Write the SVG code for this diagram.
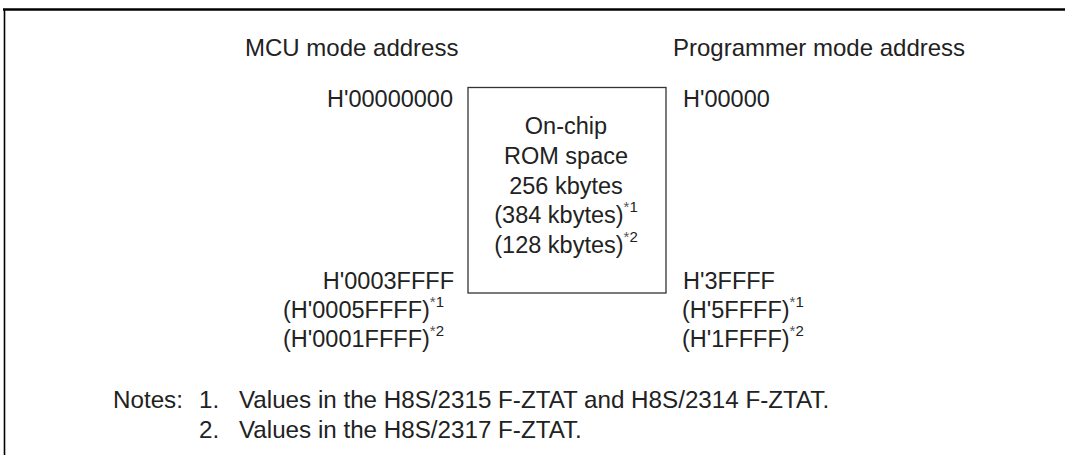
<svg xmlns="http://www.w3.org/2000/svg" width="1065" height="455" viewBox="0 0 1065 455">
<style>
text{font-family:"Liberation Sans",Arial,sans-serif;font-size:23.5px;fill:#222}
.h{font-size:24px}
.n{font-size:24.2px}
.r{text-anchor:end}
.m{text-anchor:middle}
.sup{font-size:15px}
.ast{fill:#555}
.frame{stroke:#000;fill:none}
.box{stroke:#333;stroke-width:1.3;fill:#fff}
</style>
<g id="frame">
<line class="frame" x1="3" y1="9.5" x2="1065" y2="9.5" stroke-width="2.5"/>
<line class="frame" x1="4.5" y1="9" x2="4.5" y2="455" stroke-width="1.6"/>
</g>
<g id="headers">
<text class="h" x="245" y="55.5">MCU mode address</text>
<text class="h" x="673" y="55.5">Programmer mode address</text>
</g>
<g id="rom">
<rect class="box" x="468" y="87.5" width="198" height="205.5"/>
<text class="m" x="566" y="134">On-chip</text>
<text class="m" x="566" y="164">ROM space</text>
<text class="m" x="566" y="193.5">256 kbytes</text>
<text class="m" x="566" y="223">(384 kbytes)<tspan class="sup ast" dy="-11">*</tspan><tspan class="sup">1</tspan></text>
<text class="m" x="566" y="252.5">(128 kbytes)<tspan class="sup ast" dy="-11">*</tspan><tspan class="sup">2</tspan></text>
</g>
<g id="mcu-addr">
<text class="r" x="453" y="107">H'00000000</text>
<text class="r" x="454" y="288.5">H'0003FFFF</text>
<text x="283" y="318">(H'0005FFFF)<tspan class="sup ast" dy="-11">*</tspan><tspan class="sup">1</tspan></text>
<text x="283" y="347">(H'0001FFFF)<tspan class="sup ast" dy="-11">*</tspan><tspan class="sup">2</tspan></text>
</g>
<g id="prog-addr">
<text x="683" y="107">H'00000</text>
<text x="683" y="288.5">H'3FFFF</text>
<text x="682" y="318">(H'5FFFF)<tspan class="sup ast" dy="-11">*</tspan><tspan class="sup">1</tspan></text>
<text x="682" y="347">(H'1FFFF)<tspan class="sup ast" dy="-11">*</tspan><tspan class="sup">2</tspan></text>
</g>
<g id="notes">
<text class="n" x="113" y="407.5">Notes:</text>
<text class="n" x="199" y="407.5">1.</text>
<text class="n" x="239" y="407.5">Values in the H8S/2315 F-ZTAT and H8S/2314 F-ZTAT.</text>
<text class="n" x="199" y="437.5">2.</text>
<text class="n" x="239" y="437.5">Values in the H8S/2317 F-ZTAT.</text>
</g>
</svg>
